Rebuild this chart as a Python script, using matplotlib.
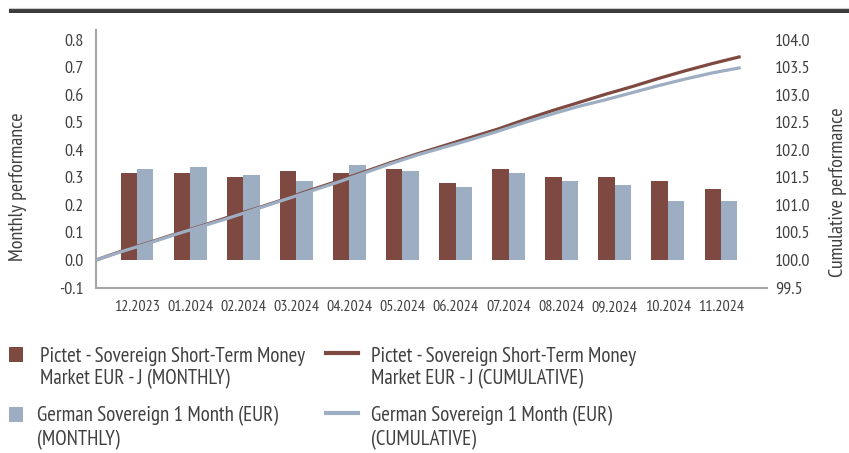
import matplotlib
matplotlib.use("Agg")
import matplotlib.pyplot as plt
from matplotlib import font_manager
from matplotlib.patches import Rectangle
from matplotlib.lines import Line2D
import numpy as np

# pick a condensed font, the reference uses one
names = {f.name for f in font_manager.fontManager.ttflist}
family = 'DejaVu Sans'
for cand in ['PT Sans Narrow', 'Roboto Condensed', 'Fira Sans Condensed',
             'Open Sans Condensed', 'Archivo Narrow', 'Barlow Semi Condensed',
             'Asap Condensed']:
    if cand in names:
        family = cand
        break
plt.rcParams['font.family'] = [family, 'DejaVu Sans']

# data
months = ['12.2023', '01.2024', '02.2024', '03.2024', '04.2024', '05.2024',
          '06.2024', '07.2024', '08.2024', '09.2024', '10.2024', '11.2024']
fund_monthly = [0.318, 0.318, 0.303, 0.325, 0.318, 0.332,
                0.281, 0.332, 0.303, 0.303, 0.288, 0.259]
bench_monthly = [0.331, 0.339, 0.310, 0.288, 0.347, 0.325,
                 0.267, 0.318, 0.288, 0.274, 0.216, 0.216]
fund_cum = [100.00, 100.17, 100.32, 100.48, 100.63, 100.79, 100.94, 101.10,
            101.27, 101.43, 101.60, 101.77, 101.93, 102.08, 102.23, 102.38,
            102.55, 102.71, 102.86, 103.01, 103.15, 103.30, 103.44, 103.57, 103.69]
bench_cum = [100.00, 100.16, 100.31, 100.47, 100.62, 100.77, 100.93, 101.09,
             101.25, 101.41, 101.58, 101.75, 101.91, 102.05, 102.19, 102.34,
             102.50, 102.65, 102.79, 102.91, 103.04, 103.17, 103.29, 103.40, 103.49]
labels = ['Pictet - Sovereign Short-Term Money\nMarket EUR - J (MONTHLY)',
          'German Sovereign 1 Month (EUR)\n(MONTHLY)',
          'Pictet - Sovereign Short-Term Money\nMarket EUR - J (CUMULATIVE)',
          'German Sovereign 1 Month (EUR)\n(CUMULATIVE)']

RED = '#7d4940'
BLUE = '#9daec3'
TXT = '#404040'
W, H = 849, 453

def fx(px):
    return px / W

def fy(py):
    return 1 - py / H

fig = plt.figure(figsize=(8.49, 4.53), dpi=100)
ax = fig.add_axes([fx(96), fy(287.5), fx(767) - fx(96), fy(30) - fy(287.5)])

x = np.arange(len(months))
bw = 0.31
ax.bar(x - bw / 2, fund_monthly, bw, color=RED, zorder=2)
ax.bar(x + bw / 2, bench_monthly, bw, color=BLUE, zorder=2)
ax.set_xlim(-0.772, 11.866)
ax.set_ylim(-0.1, 0.836)
ax.set_yticks(np.arange(-0.1, 0.81, 0.1))
ax.set_yticklabels([f'{v:.1f}' for v in np.arange(-0.1, 0.81, 0.1)])
ax.set_xticks(x)
ax.set_xticklabels(months)
ax.tick_params(axis='y', length=0, pad=9, labelsize=13, labelcolor=TXT)
ax.tick_params(axis='x', length=0, pad=9, labelsize=11.5, labelcolor=TXT)
for s in ['top', 'right']:
    ax.spines[s].set_visible(False)
for s in ['left', 'bottom']:
    ax.spines[s].set_color('#a6a6a6')
    ax.spines[s].set_linewidth(1.5)

# cumulative lines on the right axis
ax2 = ax.twinx()
line_x = np.linspace(-0.77, 11.34, len(fund_cum))
ax2.plot(line_x, fund_cum, color=RED, lw=2.3)
ax2.plot(line_x, bench_cum, color=BLUE, lw=2.3)
ax2.set_ylim(99.5, 104.18)
ax2.set_yticks(np.arange(99.5, 104.01, 0.5))
ax2.set_yticklabels([f'{v:.1f}' for v in np.arange(99.5, 104.01, 0.5)])
ax2.tick_params(axis='y', length=0, pad=6, labelsize=13, labelcolor=TXT)
for s in ax2.spines.values():
    s.set_visible(False)

fig.text(fx(18), fy(187), 'Monthly performance', rotation=90, ha='center',
         va='center', fontsize=14.5, color=TXT)
fig.text(fx(838), fy(192), 'Cumulative performance', rotation=90, ha='center',
         va='center', fontsize=14.5, color=TXT)

# header rule and the cut-off title
fig.add_artist(Rectangle((fx(9), fy(12.5)), 1 - fx(9), fy(9) - fy(12.5),
                         transform=fig.transFigure, color='#3c3c3c', lw=0))
fig.add_artist(Line2D([fx(9), 1], [fy(8), fy(8)], transform=fig.transFigure,
                      color='#cccccc', lw=0.8))
fig.text(fx(141), fy(-10), 'p', color='#a03c30', fontsize=14, va='baseline')

# legend
rows = [368, 428]
for i, (lab, col) in enumerate(zip(labels[:2], [RED, BLUE])):
    top = rows[i] - 21
    fig.add_artist(Rectangle((fx(9), fy(top + 15)), fx(14), 15 / H,
                             transform=fig.transFigure, color=col, lw=0))
    fig.text(fx(40 - 3 * i), fy(rows[i]), lab, fontsize=15, color=TXT,
             va='center', ha='left', linespacing=1.22)
for i, (lab, col) in enumerate(zip(labels[2:], [RED, BLUE])):
    yy = fy(rows[i] - 15)
    fig.add_artist(Line2D([fx(326), fx(358)], [yy, yy], transform=fig.transFigure,
                          color=col, lw=3))
    fig.text(fx(371), fy(rows[i]), lab, fontsize=15, color=TXT,
             va='center', ha='left', linespacing=1.22)

fig.savefig('out.png', dpi=100)
